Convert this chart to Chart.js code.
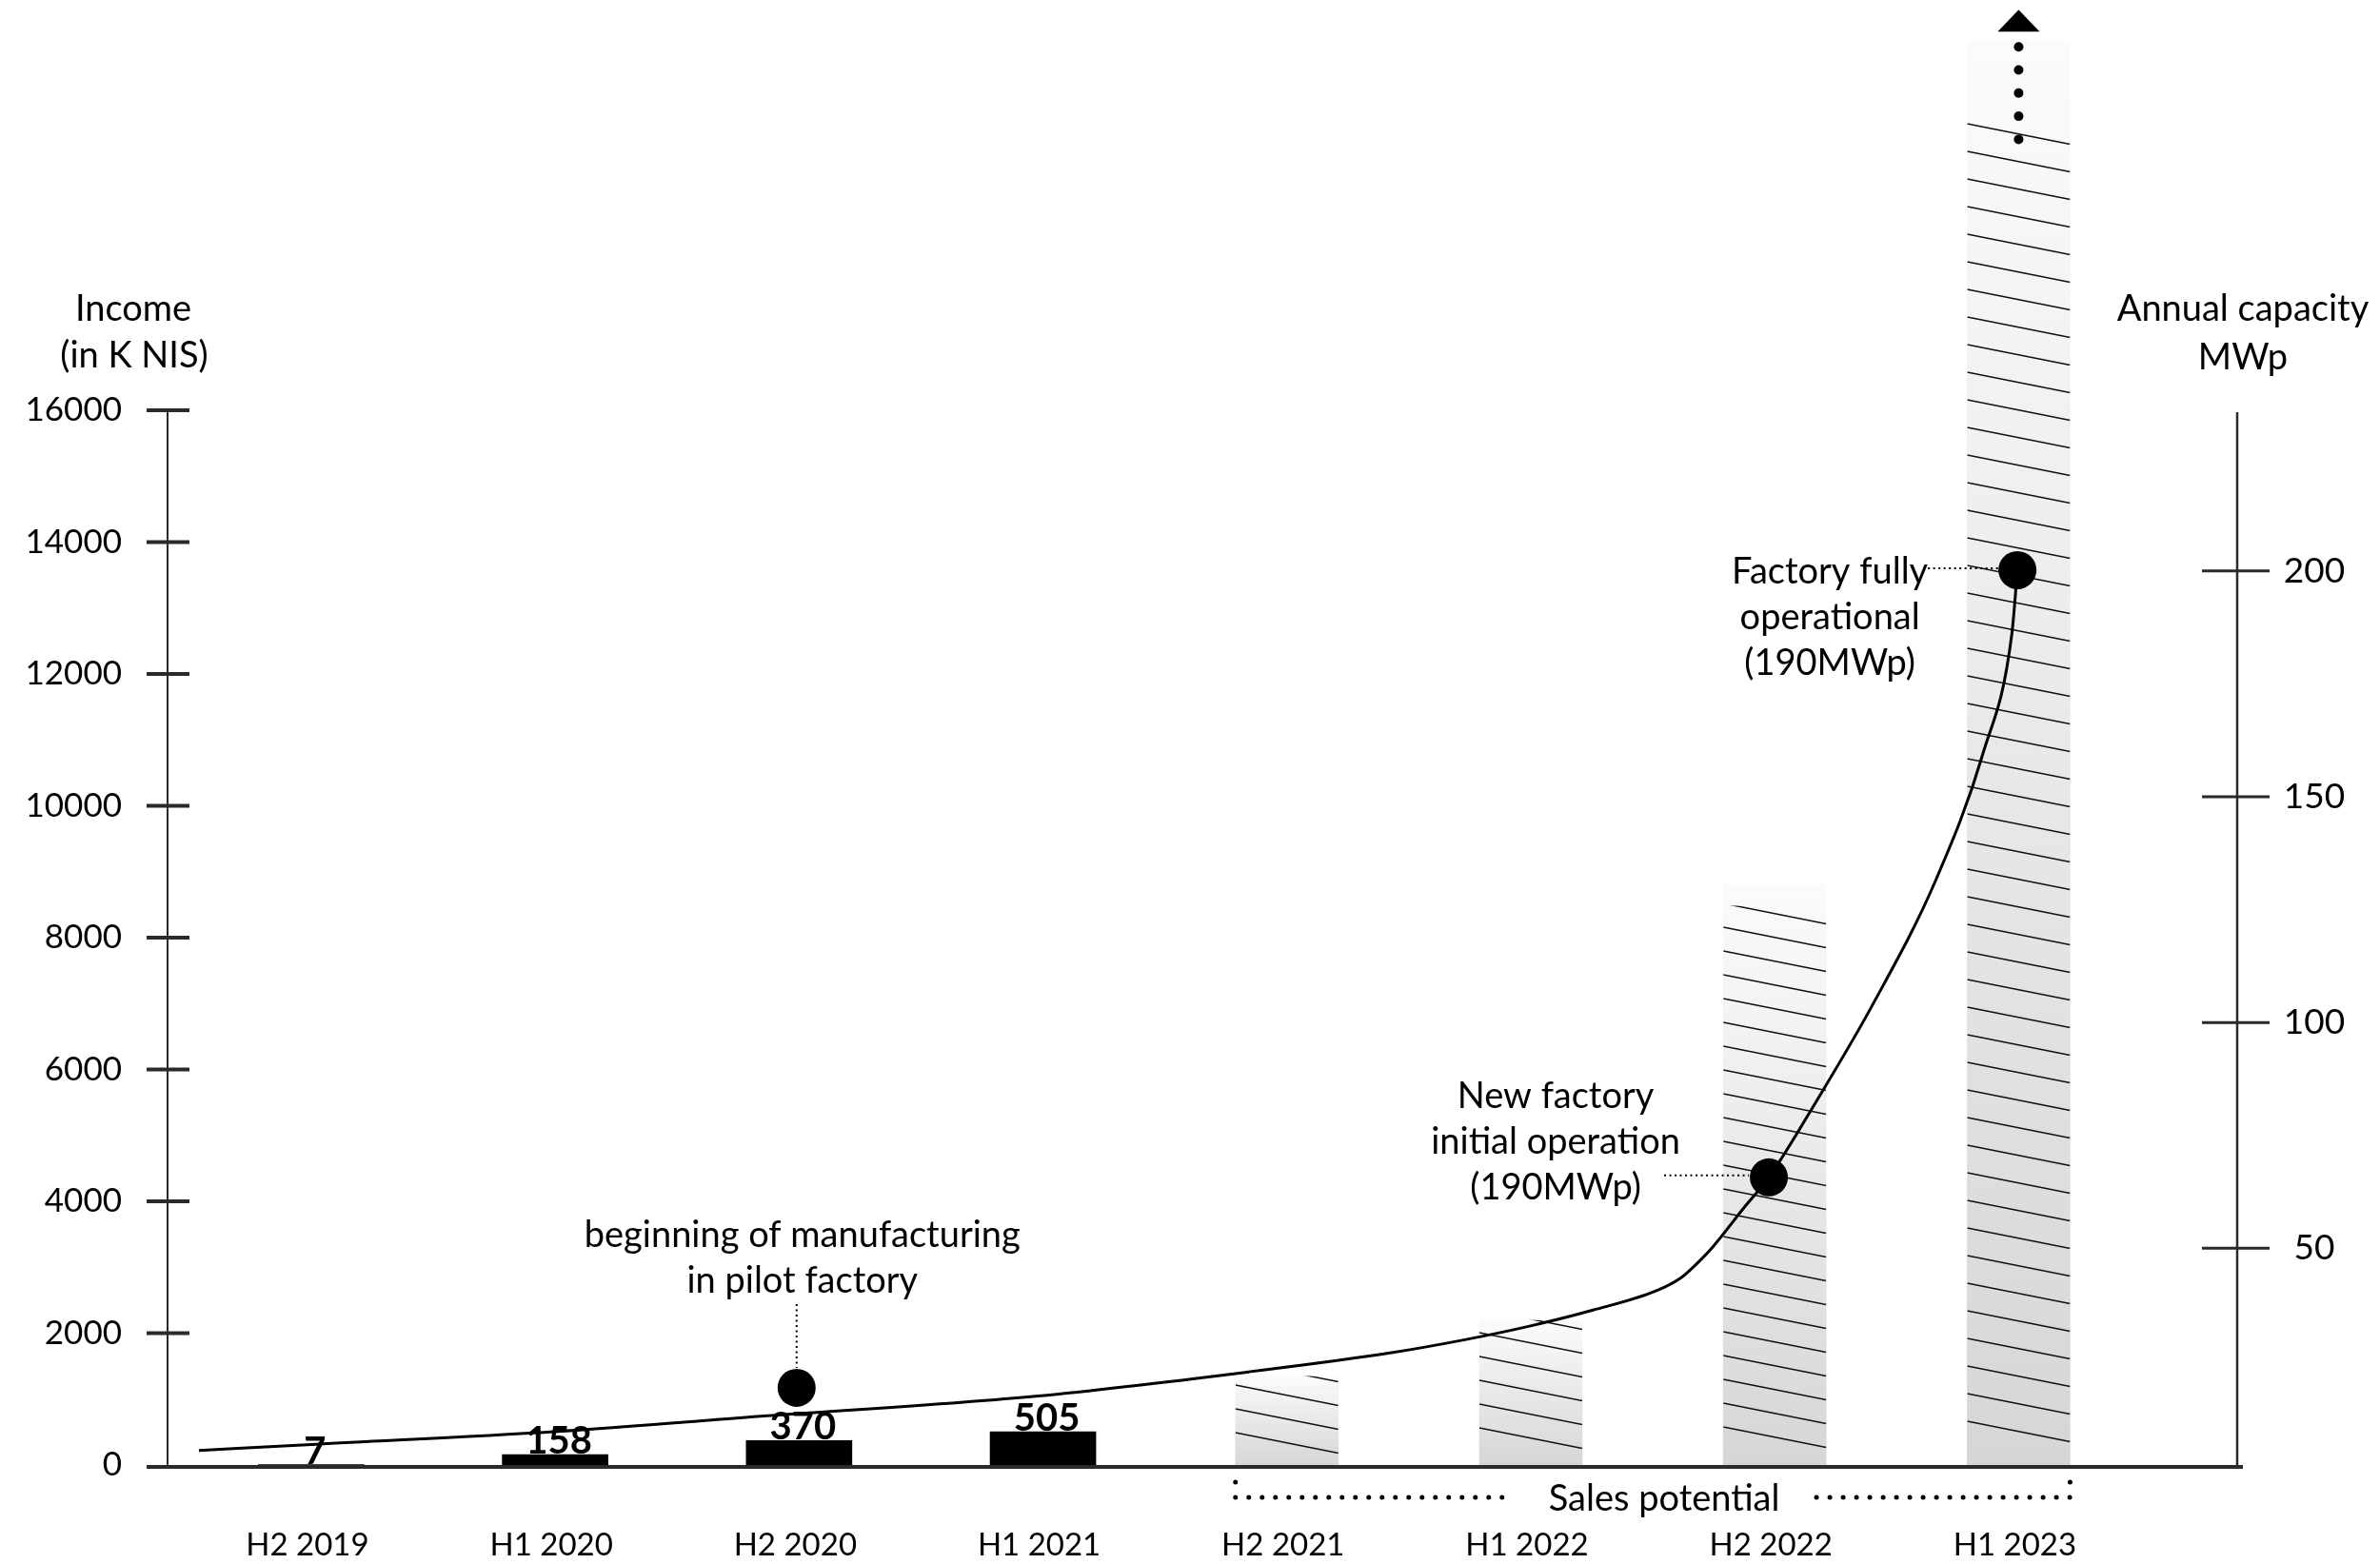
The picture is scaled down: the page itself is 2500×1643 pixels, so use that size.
<!DOCTYPE html>
<html>
<head>
<meta charset="utf-8">
<title>Income and annual capacity</title>
<script src="https://cdn.jsdelivr.net/npm/chart.js@4.4.1/dist/chart.umd.min.js"></script>
<style>
  html, body { margin: 0; padding: 0; background: #fff; }
  canvas { display: block; }
</style>
</head>
<body>
<canvas id="chart" width="2500" height="1643"></canvas>
<script>
const CATEGORIES = ["H2 2019", "H1 2020", "H2 2020", "H1 2021", "H2 2021", "H1 2022", "H2 2022", "H1 2023"];
const INCOME = [7, 158, 370, 505, null, null, null, null];
const SALES_POTENTIAL = [null, null, null, null, 1350, 2200, 8800, 21600];
const INCOME_TICKS = [0, 2000, 4000, 6000, 8000, 10000, 12000, 14000, 16000];
const CAPACITY_TICKS = [50, 100, 150, 200];

// capacity curve, x in category units, y in MWp
const CURVE_X = [-0.46, 0.02, 0.995, 1.87, 2.98, 3.87, 4.41, 4.735, 4.995, 5.255, 5.515, 5.619, 5.671, 5.746, 5.88, 5.976, 6.18, 6.4, 6.66, 6.855, 6.972, 6.995];
const CURVE_Y = [5.2, 6.6, 9.4, 12.9, 17.3, 22.8, 26.7, 29.8, 32.75, 36.3, 40.6, 43.6, 46.1, 50.3, 59.4, 65.7, 83.4, 103.8, 131.5, 159.8, 186.0, 200.2];

const MILESTONE_X = [1.99, 5.976, 6.995];
const MILESTONE_Y = [19.1, 65.7, 200.2];
const MILESTONE_TEXT = [
  ["beginning of manufacturing", "in pilot factory"],
  ["New factory", "initial operation", "(190MWp)"],
  ["Factory fully", "operational", "(190MWp)"]
];

const FONT = "Lato, 'Noto Sans', sans-serif";
const AXIS_COLOR = "#2a2a2e";
const HATCH_GAP = [25, 25, 25, 29];
const HATCH_OFFSET = [34, 39, 40, 46];
const HATCH_INSET = [0, 0, 22, 85];
const HATCH_SLOPE = 0.2;

function points(xs, ys) {
  return xs.map((x, i) => ({ x: x, y: ys[i] })).filter((p) => p.y !== null);
}

function potentialFill(ctx) {
  const chart = ctx.chart;
  if (!chart.chartArea || ctx.type !== "data") return "#dddddd";
  const yScale = chart.scales.y;
  const top = yScale.getPixelForValue(ctx.raw.y);
  const base = yScale.getPixelForValue(0);
  const g = chart.ctx.createLinearGradient(0, top, 0, base);
  g.addColorStop(0, "#fbfbfb");
  g.addColorStop(1, "#d6d6d6");
  return g;
}

function text(ctx, str, x, y, size, align, weight) {
  ctx.font = (weight || "normal") + " " + size + "px " + FONT;
  ctx.textAlign = align || "center";
  ctx.fillStyle = "#000";
  ctx.fillText(str, x, y);
}

function dotted(ctx, x1, y1, x2, y2, width, dash) {
  ctx.save();
  ctx.beginPath();
  ctx.lineWidth = width;
  ctx.lineCap = dash[0] === 0 ? "round" : "butt";
  ctx.setLineDash(dash);
  ctx.strokeStyle = "#000";
  ctx.moveTo(x1, y1);
  ctx.lineTo(x2, y2);
  ctx.stroke();
  ctx.restore();
}

// hatch over the sales potential bars, right after they are drawn
const hatchPlugin = {
  id: "hatch",
  afterDatasetDraw(chart, args) {
    if (args.meta.label !== "Sales potential") return;
    const ctx = chart.ctx;
    args.meta.data.forEach((el, i) => {
      const p = el.getProps(["x", "y", "base", "width"], true);
      const left = p.x - p.width / 2;
      const top = p.y + HATCH_INSET[i];
      ctx.save();
      ctx.beginPath();
      ctx.rect(left, top, p.width, p.base - top);
      ctx.clip();
      ctx.beginPath();
      ctx.lineWidth = 1.5;
      ctx.strokeStyle = "#111";
      for (let y0 = p.base - HATCH_OFFSET[i]; y0 > top - p.width * HATCH_SLOPE; y0 -= HATCH_GAP[i]) {
        ctx.moveTo(left, y0);
        ctx.lineTo(left + p.width, y0 + p.width * HATCH_SLOPE);
      }
      ctx.stroke();
      ctx.restore();
    });
    // arrow above the last bar
    const last = args.meta.data[args.meta.data.length - 1].getProps(["x", "y"], true);
    ctx.save();
    ctx.fillStyle = "#000";
    for (let k = 0; k < 5; k++) {
      ctx.beginPath();
      ctx.arc(last.x, last.y + 6 + k * 24.3, 5, 0, Math.PI * 2);
      ctx.fill();
    }
    ctx.beginPath();
    ctx.moveTo(last.x, last.y - 33);
    ctx.lineTo(last.x + 22, last.y - 10);
    ctx.lineTo(last.x - 22, last.y - 10);
    ctx.closePath();
    ctx.fill();
    ctx.restore();
  }
};

const axesPlugin = {
  id: "axes",
  afterDraw(chart) {
    const ctx = chart.ctx;
    const area = chart.chartArea;
    const x = chart.scales.x;
    const y = chart.scales.y;
    const y2 = chart.scales.y2;
    ctx.save();
    ctx.strokeStyle = AXIS_COLOR;
    ctx.textBaseline = "middle";

    // left income axis
    ctx.lineWidth = 2;
    ctx.beginPath();
    ctx.moveTo(area.left, y.getPixelForValue(16000));
    ctx.lineTo(area.left, area.bottom);
    ctx.stroke();
    ctx.lineWidth = 4;
    INCOME_TICKS.forEach((v) => {
      const py = y.getPixelForValue(v);
      if (v > 0) {
        ctx.beginPath();
        ctx.moveTo(area.left - 22, py);
        ctx.lineTo(area.left + 23, py);
        ctx.stroke();
      }
      text(ctx, String(v), area.left - 48, py, 35, "right");
    });

    // right capacity axis
    ctx.lineWidth = 2.5;
    ctx.beginPath();
    ctx.moveTo(area.right, area.top + 2);
    ctx.lineTo(area.right, area.bottom);
    ctx.stroke();
    ctx.lineWidth = 3;
    CAPACITY_TICKS.forEach((v) => {
      const py = y2.getPixelForValue(v);
      ctx.beginPath();
      ctx.moveTo(area.right - 37, py);
      ctx.lineTo(area.right + 34, py);
      ctx.stroke();
      text(ctx, String(v), area.right + 81, py, 37, "center");
    });

    // baseline
    ctx.lineWidth = 4;
    ctx.beginPath();
    ctx.moveTo(area.left - 22, area.bottom + 2);
    ctx.lineTo(area.right + 6, area.bottom + 2);
    ctx.stroke();

    // category labels
    CATEGORIES.forEach((c, i) => {
      text(ctx, c, x.getPixelForValue(i) - 4, area.bottom + 84, 33, "center");
    });

    // axis titles
    text(ctx, "Income", 140, 325, 38, "center");
    text(ctx, "(in K NIS)", 141, 374, 38, "center");
    text(ctx, "Annual capacity", 2356, 325, 38, "center");
    text(ctx, "MWp", 2356, 376, 38, "center");

    // income values above the bars
    ctx.textBaseline = "alphabetic";
    const inc = chart.getDatasetMeta(0);
    inc.data.forEach((el, i) => {
      const p = el.getProps(["x", "y"], true);
      text(ctx, String(inc._dataset.data[i].y), p.x + 4, p.y - 1, 40, "center", "bold");
    });

    // sales potential bracket
    const sales = chart.getDatasetMeta(1).data;
    const first = sales[0].getProps(["x", "width"], true);
    const lastBar = sales[sales.length - 1].getProps(["x", "width"], true);
    const bl = first.x - first.width / 2;
    const br = lastBar.x + lastBar.width / 2;
    const by = area.bottom + 34;
    const mid = (bl + br) / 2 + 12;
    ctx.textBaseline = "middle";
    text(ctx, "Sales potential", mid, by + 2, 38, "center");
    dotted(ctx, bl, by, mid - 160, by, 5, [0, 14]);
    dotted(ctx, mid + 160, by, br, by, 5, [0, 14]);
    dotted(ctx, bl, by - 16, bl, by - 16, 5, [0, 14]);
    dotted(ctx, br, by - 16, br, by - 16, 5, [0, 14]);

    // milestone notes
    const ms = chart.getDatasetMeta(3).data.map((el) => el.getProps(["x", "y"], true));
    const p0 = ms[0], p1 = ms[1], p2 = ms[2];
    MILESTONE_TEXT[0].forEach((t, k) => text(ctx, t, p0.x + 6, p0.y - 160 + k * 48, 38, "center"));
    dotted(ctx, p0.x, p0.y - 88, p0.x, p0.y - 21, 2, [2, 3.5]);
    MILESTONE_TEXT[1].forEach((t, k) => text(ctx, t, p1.x - 224, p1.y - 85 + k * 48, 38, "center"));
    dotted(ctx, p1.x - 110, p1.y - 2, p1.x - 21, p1.y - 2, 2, [2, 3.5]);
    MILESTONE_TEXT[2].forEach((t, k) => text(ctx, t, p2.x - 197, p2.y + 2 + k * 48, 38, "center"));
    dotted(ctx, p2.x - 94, p2.y - 2, p2.x - 20, p2.y - 2, 2, [2, 3.5]);

    ctx.restore();
  }
};

new Chart(document.getElementById("chart"), {
  data: {
    datasets: [
      {
        type: "bar",
        label: "Income",
        data: points(CATEGORIES.map((c, i) => i), INCOME),
        backgroundColor: "#000",
        barThickness: 111,
        grouped: false,
        order: 3
      },
      {
        type: "bar",
        label: "Sales potential",
        data: points(CATEGORIES.map((c, i) => i), SALES_POTENTIAL),
        backgroundColor: potentialFill,
        barThickness: 108,
        grouped: false,
        clip: false,
        order: 2
      },
      {
        type: "line",
        label: "Annual capacity",
        data: points(CURVE_X, CURVE_Y),
        yAxisID: "y2",
        borderColor: "#000",
        borderWidth: 3,
        pointRadius: 0,
        cubicInterpolationMode: "monotone",
        fill: false,
        order: 1
      },
      {
        type: "scatter",
        label: "Milestones",
        data: points(MILESTONE_X, MILESTONE_Y),
        yAxisID: "y2",
        backgroundColor: "#000",
        borderWidth: 0,
        pointRadius: 20,
        order: 0
      }
    ]
  },
  options: {
    responsive: false,
    devicePixelRatio: 1,
    animation: false,
    layout: { padding: { left: 176, right: 150, top: 431, bottom: 104 } },
    plugins: { legend: { display: false }, tooltip: { enabled: false } },
    scales: {
      x: { type: "linear", offset: false, min: -0.589, max: 7.896, display: false },
      y: { min: 0, max: 16000, display: false },
      y2: { min: 2, max: 235.6, display: false, position: "right" }
    }
  },
  plugins: [hatchPlugin, axesPlugin]
});
</script>
</body>
</html>
